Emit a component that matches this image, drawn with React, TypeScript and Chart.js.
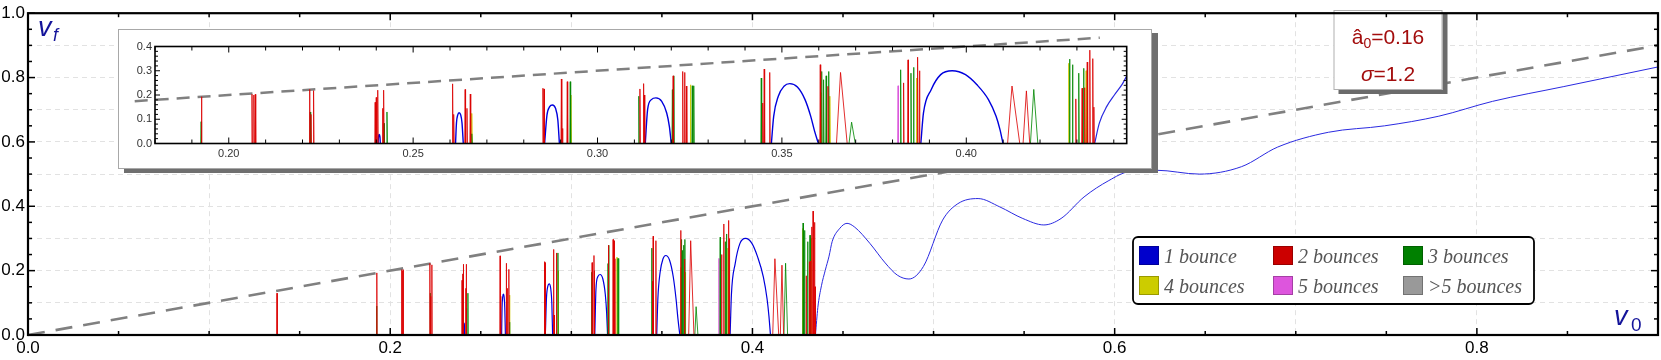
import React, { useEffect, useRef } from 'react';
import { Chart, registerables } from 'chart.js';

Chart.register(...registerables);

// ---------------- data ----------------
const mainXTicks = [0, 0.1, 0.2, 0.3, 0.4, 0.5, 0.6, 0.7, 0.8, 0.9];
const mainYTicks = [0, 0.1, 0.2, 0.3, 0.4, 0.5, 0.6, 0.7, 0.8, 0.9, 1.0];
const mainLabeledTicks = [0, 0.2, 0.4, 0.6, 0.8, 1.0];
const insetXTicks = [0.2, 0.25, 0.3, 0.35, 0.4];
const insetYTicks = [0, 0.1, 0.2, 0.3, 0.4];

// reference line v_f = v_0
const diagonal = [[0, 0], [0.9, 0.9]];
const insetDiagonal = [[0.1745, 0.1745], [0.4362, 0.4362]];

// 1 bounce: separate arcs + continuous tail
const oneBounceArcs: number[][][] = [
  [[0.2405, 0], [0.2406, 0.028], [0.2408, 0.037], [0.2410, 0.028], [0.2411, 0]],
  [[0.2615, 0], [0.26175, 0.085], [0.2621, 0.118], [0.26245, 0.127], [0.2629, 0.118], [0.26325, 0.085], [0.2636, 0]],
  [[0.28565, 0], [0.28629, 0.117], [0.28703, 0.152], [0.28776, 0.159], [0.28861, 0.145], [0.28924, 0.097], [0.28966, 0]],
  [[0.31295, 0], [0.31358, 0.14], [0.31461, 0.181], [0.31585, 0.188], [0.31741, 0.174], [0.31876, 0.126], [0.31948, 0.071], [0.32, 0]],
  [[0.34715, 0], [0.34777, 0.112], [0.34902, 0.195], [0.35057, 0.236], [0.35212, 0.247], [0.3542, 0.233], [0.35627, 0.181], [0.35782, 0.112], [0.35886, 0.051], [0.3599, 0]],
  [[0.38767, 0], [0.38839, 0.126], [0.39047, 0.222], [0.39306, 0.284], [0.39617, 0.3], [0.39979, 0.284], [0.4029, 0.242], [0.40601, 0.181], [0.40808, 0.112], [0.40912, 0.058], [0.40995, 0]],
];
const oneBounceTail = [
  [0.4348, 0], [0.4361, 0.085], [0.4381, 0.153], [0.4402, 0.201], [0.4423, 0.245], [0.4440, 0.29],
  [0.4480, 0.33], [0.4522, 0.347], [0.4565, 0.335], [0.4648, 0.285], [0.4733, 0.224], [0.48, 0.186],
  [0.4864, 0.174], [0.4944, 0.213], [0.505, 0.357], [0.5134, 0.408], [0.5246, 0.424], [0.5366, 0.398],
  [0.5493, 0.362], [0.5609, 0.342], [0.5704, 0.362], [0.5831, 0.429], [0.5968, 0.48], [0.608, 0.508],
  [0.623, 0.512], [0.6467, 0.5], [0.67, 0.523], [0.69, 0.584], [0.718, 0.63], [0.749, 0.65],
  [0.779, 0.68], [0.8086, 0.726], [0.848, 0.772], [0.9, 0.833],
];

// narrow spikes: [v0, height]
const twoBounceSpikes = [
  [0.1375, 0.13], [0.1926, 0.193],
  [0.2063, 0.203], [0.2068, 0.2], [0.2072, 0.203],
  [0.2219, 0.223], [0.2223, 0.12], [0.223, 0.218],
  [0.2397, 0.17], [0.24, 0.19], [0.2404, 0.22], [0.2417, 0.145], [0.242, 0.22],
  [0.2607, 0.246], [0.261, 0.12], [0.2641, 0.223], [0.2646, 0.145], [0.2655, 0.204],
  [0.2852, 0.228], [0.2855, 0.225], [0.2902, 0.266], [0.2905, 0.062], [0.2918, 0.255],
  [0.3115, 0.225], [0.3125, 0.247], [0.3127, 0.2],
  [0.3205, 0.279], [0.3231, 0.297], [0.3236, 0.293], [0.3241, 0.237],
  [0.3448, 0.167], [0.3452, 0.307], [0.3467, 0.293],
  [0.3604, 0.325], [0.3625, 0.236],
  [0.383, 0.25], [0.3842, 0.345], [0.3868, 0.356], [0.3873, 0.3],
  [0.4297, 0.184], [0.4314, 0.228], [0.4321, 0.23], [0.4328, 0.336], [0.4335, 0.385], [0.4343, 0.35], [0.4346, 0.15],
];
// wider hills: [start, peak, end, height]
const twoBounceHills = [
  [0.3648, 0.3659, 0.3677, 0.293],
  [0.4112, 0.4124, 0.4145, 0.237],
  [0.4154, 0.4163, 0.4172, 0.217],
];
const threeBounceSpikes = [
  [0.1925, 0.09], [0.2221, 0.13], [0.2421, 0.083], [0.2429, 0.13], [0.2659, 0.04], [0.2926, 0.255],
  [0.3112, 0.195], [0.3203, 0.222], [0.3207, 0.279], [0.3257, 0.238], [0.3261, 0.238],
  [0.3444, 0.27], [0.3608, 0.297], [0.3613, 0.263], [0.362, 0.279], [0.3627, 0.297],
  [0.3822, 0.304], [0.385, 0.29], [0.3857, 0.314],
  [0.428, 0.348], [0.4288, 0.325], [0.4305, 0.29], [0.4318, 0.31],
];
const threeBounceHills = [
  [0.3682, 0.3689, 0.3699, 0.088],
  [0.4174, 0.4183, 0.4194, 0.223],
];
const fourBounceSpikes = [
  [0.2659, 0.124], [0.2928, 0.2], [0.3252, 0.242], [0.3606, 0.21], [0.363, 0.195], [0.3865, 0.27], [0.4278, 0.331], [0.4325, 0.3],
];
const fiveBounceSpikes = [[0.3815, 0.238]];
const moreBounceSpikes: number[][] = [];

const legendLabels = ['1 bounce', '2 bounces', '3 bounces', '4 bounces', '5 bounces', '>5 bounces'];
const legendColors = ['#0000cc', '#cc0000', '#008000', '#cccc00', '#dd55dd', '#999999'];

// ---------------- helpers ----------------
const SANS = '"Liberation Sans", Arial, sans-serif';
const SERIF = '"Liberation Serif", "Times New Roman", serif';
const HALF = 0.00012;

function toXY(pairs: number[][]) {
  return pairs.map(([x, y]) => ({ x, y }));
}

function peakPoints(spikes: number[][], hills: number[][]) {
  const shapes = [...spikes.map(([x, h]) => [x - HALF, x, x + HALF, h]), ...hills].sort((a, b) => a[0] - b[0]);
  const pts: any[] = [];
  for (const [x0, xp, x1, h] of shapes) {
    pts.push({ x: x0, y: 0 }, { x: xp, y: h }, { x: x1, y: 0 }, { x: x1, y: null });
  }
  return pts;
}

function arcPoints(arcs: number[][][]) {
  const pts: any[] = [];
  for (const arc of arcs) {
    for (const [x, y] of arc) pts.push({ x, y });
    pts.push({ x: arc[arc.length - 1][0], y: null });
  }
  return pts;
}

function buildDatasets(kind: 'main' | 'inset') {
  const base = { pointRadius: 0, fill: false, tension: 0, borderWidth: 1, spanGaps: false };
  return [
    { ...base, data: peakPoints(twoBounceSpikes, twoBounceHills), borderColor: 'rgba(220,0,0,0.82)' },
    { ...base, data: peakPoints(threeBounceSpikes, threeBounceHills), borderColor: 'rgba(0,135,0,0.82)' },
    { ...base, data: peakPoints(fourBounceSpikes, []), borderColor: 'rgba(205,200,0,0.9)' },
    { ...base, data: peakPoints(fiveBounceSpikes, []), borderColor: 'rgba(220,90,220,0.9)' },
    { ...base, data: peakPoints(moreBounceSpikes, []), borderColor: 'rgba(150,150,150,0.9)' },
    {
      ...base, data: arcPoints(oneBounceArcs), borderColor: '#0000dd',
      borderWidth: kind === 'inset' ? 1.4 : 1.2, cubicInterpolationMode: 'monotone',
    },
    {
      ...base, data: toXY(oneBounceTail), borderColor: '#2a2ae0',
      borderWidth: kind === 'inset' ? 1.2 : 1, cubicInterpolationMode: 'monotone',
    },
    {
      ...base, data: toXY(kind === 'main' ? diagonal : insetDiagonal), borderColor: '#808080',
      borderWidth: kind === 'main' ? 2.6 : 2.5, borderDash: kind === 'main' ? [17, 11] : [13, 8],
      borderCapStyle: 'butt', clip: kind === 'inset' ? false : 2,
    },
  ];
}

function line(ctx: CanvasRenderingContext2D, x0: number, y0: number, x1: number, y1: number) {
  ctx.beginPath();
  ctx.moveTo(x0, y0);
  ctx.lineTo(x1, y1);
  ctx.stroke();
}

function drawTicks(chart: any, xStep: number, xMajor: number, yStep: number, yMajor: number,
  xLen: number[], yLen: number[], width: number) {
  const { ctx, chartArea: a, scales } = chart;
  const xs = scales.x, ys = scales.y;
  ctx.save();
  ctx.strokeStyle = '#000';
  ctx.lineWidth = width;
  const xStart = Math.ceil(xs.min / xStep - 1e-6);
  const xEnd = Math.floor(xs.max / xStep + 1e-6);
  for (let i = xStart; i <= xEnd; i++) {
    const v = i * xStep;
    const px = xs.getPixelForValue(v);
    const r = v / xMajor;
    const L = Math.abs(r - Math.round(r)) < 1e-6 ? xLen[1] : xLen[0];
    line(ctx, px, a.bottom, px, a.bottom - L);
    line(ctx, px, a.top, px, a.top + L);
  }
  const yStart = Math.ceil(ys.min / yStep - 1e-6);
  const yEnd = Math.floor(ys.max / yStep + 1e-6);
  for (let i = yStart; i <= yEnd; i++) {
    const v = i * yStep;
    const py = ys.getPixelForValue(v);
    const r = v / yMajor;
    const L = Math.abs(r - Math.round(r)) < 1e-6 ? yLen[1] : yLen[0];
    line(ctx, a.left, py, a.left + L, py);
    line(ctx, a.right, py, a.right - L, py);
  }
  ctx.restore();
}

function roundRect(ctx: CanvasRenderingContext2D, x: number, y: number, w: number, h: number, r: number) {
  ctx.beginPath();
  ctx.moveTo(x + r, y);
  ctx.lineTo(x + w - r, y);
  ctx.arcTo(x + w, y, x + w, y + r, r);
  ctx.lineTo(x + w, y + h - r);
  ctx.arcTo(x + w, y + h, x + w - r, y + h, r);
  ctx.lineTo(x + r, y + h);
  ctx.arcTo(x, y + h, x, y + h - r, r);
  ctx.lineTo(x, y + r);
  ctx.arcTo(x, y, x + r, y, r);
  ctx.closePath();
}

const mainDecor = {
  id: 'mainDecor',
  afterDatasetsDraw(chart: any) {
    const ctx: CanvasRenderingContext2D = chart.ctx;
    ctx.save();
    // parameter box
    const bx = 1333.5, by = 10, bw = 109, bh = 80;
    ctx.fillStyle = '#6b6b6b';
    ctx.fillRect(bx + 5, by + 4, bw, bh);
    ctx.fillStyle = '#fff';
    ctx.fillRect(bx, by, bw, bh);
    ctx.strokeStyle = '#b0b0b0';
    ctx.lineWidth = 1;
    ctx.strokeRect(bx + 0.5, by + 0.5, bw - 1, bh - 1);
    ctx.fillStyle = '#a30d0d';
    ctx.textBaseline = 'alphabetic';
    ctx.textAlign = 'left';
    const cx = bx + bw / 2;
    // line 1: â₀=0.16
    const big = `21px ${SANS}`, small = `14px ${SANS}`;
    ctx.font = big; const w1 = ctx.measureText('â').width; const w3 = ctx.measureText('=0.16').width;
    ctx.font = small; const w2 = ctx.measureText('0').width;
    let x = cx - (w1 + w2 + w3) / 2;
    ctx.font = big; ctx.fillText('â', x, 44); x += w1;
    ctx.font = small; ctx.fillText('0', x, 48); x += w2;
    ctx.font = big; ctx.fillText('=0.16', x, 44);
    // line 2: σ=1.2
    const it = `italic 21px ${SANS}`;
    ctx.font = it; const s1 = ctx.measureText('σ').width;
    ctx.font = big; const s2 = ctx.measureText('=1.2').width;
    x = cx - (s1 + s2) / 2;
    ctx.font = it; ctx.fillText('σ', x, 81); x += s1;
    ctx.font = big; ctx.fillText('=1.2', x, 81);

    // legend
    const lx = 1133, ly = 237, lw = 401, lh = 67;
    roundRect(ctx, lx, ly, lw, lh, 5);
    ctx.fillStyle = '#fff';
    ctx.fill();
    ctx.strokeStyle = '#000';
    ctx.lineWidth = 1.8;
    ctx.stroke();
    const colX = [1139, 1273, 1403];
    const rowY = [246, 276];
    ctx.font = `italic 20px ${SERIF}`;
    legendLabels.forEach((lab, i) => {
      const sx = colX[i % 3], sy = rowY[Math.floor(i / 3)];
      ctx.fillStyle = legendColors[i];
      ctx.fillRect(sx, sy, 20, 19);
      ctx.strokeStyle = 'rgba(0,0,0,0.25)';
      ctx.lineWidth = 1;
      ctx.strokeRect(sx + 0.5, sy + 0.5, 19, 18);
      ctx.fillStyle = '#555';
      ctx.fillText(lab, sx + 25, sy + 17);
    });
    ctx.restore();
  },
  afterDraw(chart: any) {
    const ctx: CanvasRenderingContext2D = chart.ctx;
    const a = chart.chartArea;
    drawTicks(chart, 0.05, 0.2, 0.05, 0.2, [4, 7], [4, 7], 1.5);
    ctx.save();
    ctx.strokeStyle = '#000';
    ctx.lineWidth = 2.2;
    ctx.strokeRect(a.left, a.top, a.right - a.left, a.bottom - a.top);
    // axis labels
    ctx.fillStyle = '#14149a';
    ctx.textBaseline = 'alphabetic';
    ctx.textAlign = 'left';
    ctx.font = `italic 27px ${SANS}`;
    ctx.fillText('v', 38, 36);
    ctx.font = `italic 18px ${SANS}`;
    ctx.fillText('f', 53, 41);
    ctx.font = `italic 27px ${SANS}`;
    ctx.fillText('v', 1614, 325);
    ctx.font = `19px ${SANS}`;
    ctx.fillText('0', 1631, 331);
    ctx.restore();
  },
};

const insetDecor = {
  id: 'insetDecor',
  afterDraw(chart: any) {
    const ctx: CanvasRenderingContext2D = chart.ctx;
    const a = chart.chartArea;
    drawTicks(chart, 0.01, 0.05, 0.02, 0.1, [4, 6], [3, 5], 1);
    ctx.save();
    ctx.strokeStyle = '#000';
    ctx.lineWidth = 1.6;
    ctx.strokeRect(a.left, a.top, a.right - a.left, a.bottom - a.top);
    ctx.restore();
  },
};

function isLabeled(v: number) {
  return mainLabeledTicks.some((t) => Math.abs(t - v) < 1e-9);
}

function MainChart() {
  const ref = useRef<HTMLCanvasElement | null>(null);
  useEffect(() => {
    const tickFont = { family: SANS, size: 17 };
    const chart = new Chart(ref.current as HTMLCanvasElement, {
      type: 'line',
      data: { datasets: buildDatasets('main') as any },
      options: {
        responsive: false,
        animation: false,
        devicePixelRatio: 1,
        events: [],
        layout: { padding: { top: 10, right: 2, left: 0, bottom: 0 } },
        plugins: { legend: { display: false }, tooltip: { enabled: false } },
        scales: {
          x: {
            type: 'linear', min: 0, max: 0.9,
            afterBuildTicks: (s: any) => { s.ticks = mainXTicks.map((v) => ({ value: v })); },
            afterFit: (s: any) => { s.height = 25; },
            grid: { color: '#e2e2e2', lineWidth: 1, drawTicks: false },
            border: { display: false, dash: [5, 4] },
            ticks: {
              autoSkip: false, maxRotation: 0, padding: 3, color: '#000', font: tickFont,
              callback: (v: any) => (isLabeled(Number(v)) ? Number(v).toFixed(1) : ''),
            },
          },
          y: {
            type: 'linear', min: 0, max: 1,
            afterBuildTicks: (s: any) => { s.ticks = mainYTicks.map((v) => ({ value: v })); },
            afterFit: (s: any) => { s.width = 28; },
            grid: { color: '#e2e2e2', lineWidth: 1, drawTicks: false },
            border: { display: false, dash: [5, 4] },
            ticks: {
              autoSkip: false, padding: 3, color: '#000', font: tickFont,
              callback: (v: any) => (isLabeled(Number(v)) ? Number(v).toFixed(1) : ''),
            },
          },
        },
      } as any,
      plugins: [mainDecor],
    });
    return () => chart.destroy();
  }, []);
  return <canvas ref={ref} width={1661} height={360} style={{ position: 'absolute', left: 0, top: 0 }} />;
}

function InsetChart() {
  const ref = useRef<HTMLCanvasElement | null>(null);
  useEffect(() => {
    const tickFont = { family: SANS, size: 11 };
    const chart = new Chart(ref.current as HTMLCanvasElement, {
      type: 'line',
      data: { datasets: buildDatasets('inset') as any },
      options: {
        responsive: false,
        animation: false,
        devicePixelRatio: 1,
        events: [],
        layout: { padding: { top: 16.5, right: 24.3, left: 0, bottom: 0 } },
        plugins: { legend: { display: false }, tooltip: { enabled: false } },
        scales: {
          x: {
            type: 'linear', min: 0.18, max: 0.4435,
            afterBuildTicks: (s: any) => { s.ticks = insetXTicks.map((v) => ({ value: v })); },
            afterFit: (s: any) => { s.height = 24.5; },
            grid: { display: false, drawTicks: false },
            border: { display: false },
            ticks: {
              autoSkip: false, maxRotation: 0, padding: 4, color: '#333', font: tickFont,
              callback: (v: any) => Number(v).toFixed(2),
            },
          },
          y: {
            type: 'linear', min: 0, max: 0.4,
            afterBuildTicks: (s: any) => { s.ticks = insetYTicks.map((v) => ({ value: v })); },
            afterFit: (s: any) => { s.width = 36; },
            grid: { display: false, drawTicks: false },
            border: { display: false },
            ticks: {
              autoSkip: false, padding: 3, color: '#333', font: tickFont,
              callback: (v: any) => Number(v).toFixed(1),
            },
          },
        },
      } as any,
      plugins: [insetDecor],
    });
    return () => chart.destroy();
  }, []);
  return <canvas ref={ref} width={1032} height={138} style={{ display: 'block' }} />;
}

export default function App() {
  useEffect(() => {
    document.body.style.margin = '0';
  }, []);
  return (
    <div style={{ position: 'absolute', left: 0, top: 0, width: 1661, height: 360, background: '#fff' }}>
      <MainChart />
      <div
        style={{
          position: 'absolute', left: 118, top: 29, width: 1034, height: 140,
          border: '1px solid #a8a8a8', boxSizing: 'border-box', background: '#fff',
          boxShadow: '6px 4px 0 #6f6f6f',
        }}
      >
        <InsetChart />
      </div>
    </div>
  );
}
